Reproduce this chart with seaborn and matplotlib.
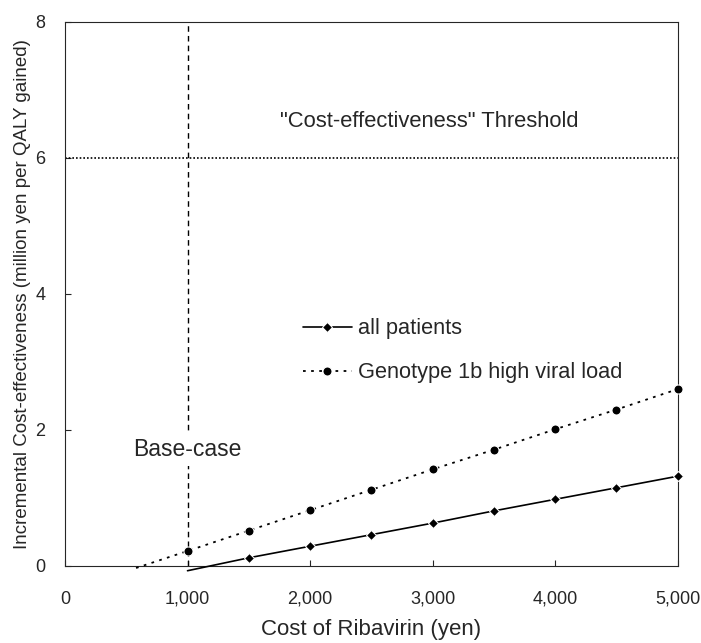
import numpy as np
import pandas as pd
import seaborn as sns
import matplotlib.pyplot as plt

# data
cost_all = [1000, 1500, 2000, 2500, 3000, 3500, 4000, 4500, 5000]
icer_all = [-0.07, 0.12, 0.29, 0.46, 0.63, 0.81, 0.98, 1.15, 1.32]
cost_g1b = [580, 1000, 1500, 2000, 2500, 3000, 3500, 4000, 4500, 5000]
icer_g1b = [-0.03, 0.22, 0.52, 0.82, 1.12, 1.42, 1.71, 2.01, 2.30, 2.60]
threshold = 6
base_case = 1000
xticks = [0, 1000, 2000, 3000, 4000, 5000]
xtick_labels = ["0", "1,000", "2,000", "3,000", "4,000", "5,000"]
yticks = [0, 2, 4, 6, 8]

sns.set_style("ticks")
plt.rcParams['font.family'] = ['Liberation Sans', 'DejaVu Sans']

fig = plt.figure(figsize=(7.01, 6.43), dpi=100)
ax = fig.add_axes([0.0927, 0.1198, 0.874, 0.846])

df_all = pd.DataFrame({'cost': cost_all, 'icer': icer_all})
df_g1b = pd.DataFrame({'cost': cost_g1b, 'icer': icer_g1b})

sns.lineplot(data=df_all, x='cost', y='icer', ax=ax, color='black', lw=1.2,
             marker='D', markersize=5, markevery=list(range(1, len(cost_all))),
             label='all patients', clip_on=False, zorder=5)
sns.lineplot(data=df_g1b, x='cost', y='icer', ax=ax, color='black', lw=1.3,
             linestyle=(0, (1.5, 3)), marker='o', markersize=6.5,
             markevery=list(range(1, len(cost_g1b))),
             label='Genotype 1b high viral load', clip_on=False, zorder=5)

ax.axhline(threshold, color='black', lw=1.2, linestyle=(0, (1, 1.2)))
ax.axvline(base_case, color='black', lw=1.0, linestyle=(0, (4, 3)))

ax.text(2970, 6.53, '"Cost-effectiveness" Threshold', ha='center', va='center', fontsize=15.8)
ax.text(base_case, 1.72, 'Base-case', ha='center', va='center', fontsize=16.5,
        bbox=dict(facecolor='white', edgecolor='none', pad=4), zorder=4)

ax.set_xlim(0, 5000)
ax.set_ylim(0, 8)
ax.set_xticks(xticks)
ax.set_xticklabels(xtick_labels)
ax.set_yticks(yticks)
ax.tick_params(axis='both', direction='in', length=4, labelsize=13)
ax.tick_params(axis='x', pad=18)
ax.tick_params(axis='y', pad=14)
for s in ax.spines.values():
    s.set_linewidth(0.8)
    s.set_visible(True)

ax.set_xlabel('Cost of Ribavirin (yen)', fontsize=16, labelpad=8)
ax.set_ylabel('Incremental Cost-effectiveness (million yen per QALY gained)', fontsize=13.5, labelpad=3)

ax.legend(loc='upper left', bbox_to_anchor=(0.388, 0.455), frameon=False, fontsize=15.7,
          borderpad=0, borderaxespad=0, handlelength=2.25, handletextpad=0.3,
          labelspacing=1.05)

fig.savefig('out.png', dpi=100)
